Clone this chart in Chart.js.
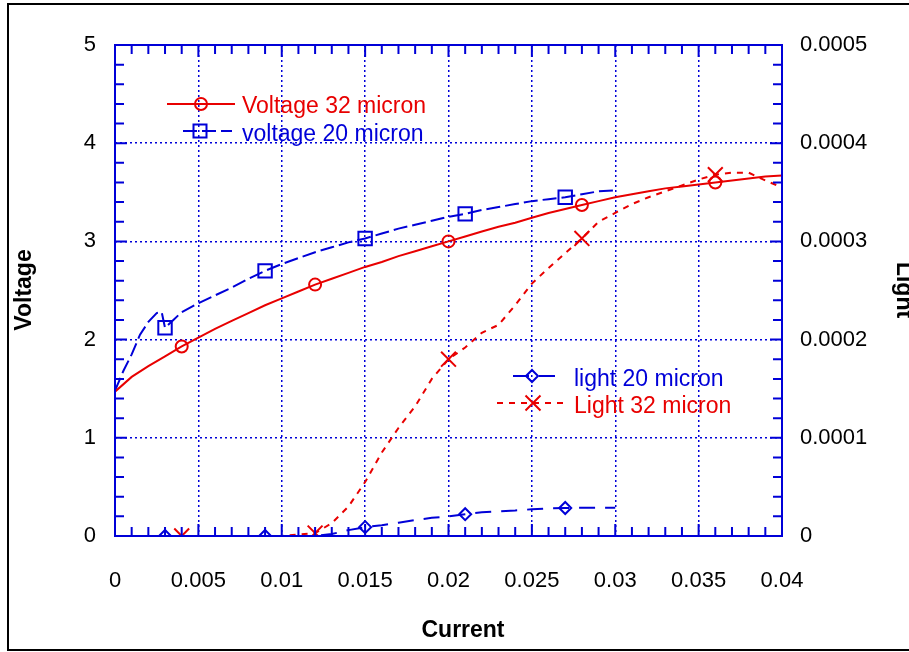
<!DOCTYPE html>
<html>
<head>
<meta charset="utf-8">
<script src="https://cdn.jsdelivr.net/npm/chart.js@4.4.1/dist/chart.umd.min.js"></script>
<style>
  html, body { margin: 0; padding: 0; background: #fff; }
  #wrap { width: 909px; height: 652px; position: relative; }
</style>
</head>
<body>
<div id="wrap"><canvas id="lightChart"></canvas></div>
<script>
// values
const current32 = [0, 0.001, 0.002, 0.003, 0.004, 0.005, 0.006, 0.007, 0.008, 0.009, 0.010,
  0.011, 0.012, 0.013, 0.014, 0.015, 0.016, 0.017, 0.018, 0.019, 0.020,
  0.021, 0.022, 0.023, 0.024, 0.025, 0.026, 0.027, 0.028, 0.029, 0.030,
  0.031, 0.032, 0.033, 0.034, 0.035, 0.036, 0.037, 0.038, 0.039, 0.040];
const voltage32 = [1.47, 1.62, 1.73, 1.83, 1.93, 2.02, 2.11, 2.19, 2.27, 2.35, 2.42,
  2.49, 2.56, 2.62, 2.68, 2.74, 2.79, 2.85, 2.90, 2.95, 3.00,
  3.05, 3.10, 3.15, 3.19, 3.24, 3.29, 3.33, 3.37, 3.41, 3.45,
  3.48, 3.51, 3.54, 3.56, 3.58, 3.60, 3.62, 3.64, 3.66, 3.67];

const current20 = [0, 0.0005, 0.001, 0.0015, 0.002, 0.0025, 0.0028, 0.003, 0.0035, 0.004,
  0.005, 0.006, 0.007, 0.008, 0.009, 0.010, 0.011, 0.012, 0.013, 0.014, 0.015,
  0.016, 0.017, 0.018, 0.019, 0.020, 0.021, 0.022, 0.023, 0.024, 0.025,
  0.026, 0.027, 0.028, 0.029, 0.030];
const voltage20 = [1.48, 1.68, 1.85, 2.05, 2.18, 2.27, 2.28, 2.12, 2.20, 2.28,
  2.37, 2.45, 2.53, 2.62, 2.70, 2.77, 2.83, 2.89, 2.94, 2.99, 3.03,
  3.08, 3.13, 3.17, 3.21, 3.25, 3.28, 3.32, 3.35, 3.38, 3.41,
  3.43, 3.45, 3.48, 3.51, 3.52];

const lightCurrent20 = [0.003, 0.004, 0.005, 0.006, 0.007, 0.008, 0.009, 0.010, 0.011, 0.012,
  0.013, 0.014, 0.015, 0.016, 0.017, 0.018, 0.019, 0.020, 0.021, 0.022,
  0.023, 0.024, 0.025, 0.026, 0.027, 0.028, 0.029, 0.030];
const light20 = [0, 0, 0, 0, 0, 0, 0, 0, 0, 0,
  0.000002, 0.000006, 0.000009, 0.000011, 0.0000135, 0.0000162, 0.0000185, 0.000020, 0.0000222, 0.0000243,
  0.0000252, 0.000026, 0.0000272, 0.000028, 0.0000285, 0.0000287, 0.0000288, 0.0000288];

const lightCurrent32 = [0.004, 0.006, 0.008, 0.010, 0.012, 0.013, 0.014, 0.015, 0.016, 0.017,
  0.018, 0.019, 0.020, 0.021, 0.022, 0.023, 0.024, 0.025, 0.026, 0.027,
  0.028, 0.029, 0.030, 0.031, 0.032, 0.033, 0.034, 0.035, 0.036, 0.037,
  0.038, 0.039, 0.040];
const light32 = [0, 0, 0, 0, 0.000003, 0.000013, 0.000030, 0.000055, 0.000085, 0.000110,
  0.000132, 0.000160, 0.000180, 0.000192, 0.000207, 0.000215, 0.000235, 0.000257, 0.000273, 0.000288,
  0.000303, 0.000320, 0.000329, 0.000338, 0.000345, 0.000351, 0.000357, 0.000363, 0.000368, 0.000370,
  0.000370, 0.000362, 0.000355];

// where the symbols sit
const marks32 = [0.004, 0.012, 0.020, 0.028, 0.036];
const marks20 = [0.003, 0.009, 0.015, 0.021, 0.027];

const xTickLabels = ['0', '0.005', '0.01', '0.015', '0.02', '0.025', '0.03', '0.035', '0.04'];
const voltTickLabels = ['0', '1', '2', '3', '4', '5'];
const lightTickLabels = ['0', '0.0001', '0.0002', '0.0003', '0.0004', '0.0005'];

const RED = '#e80000';
const BLUE = '#0000d8';
const FONT = '"Liberation Sans", Arial, sans-serif';

function pairs(xs, ys) {
  return xs.map((x, i) => ({ x: x, y: ys[i] }));
}
function markerRadius(xs, marks, r) {
  return ctx => {
    const x = xs[ctx.dataIndex];
    return marks.some(m => Math.abs(m - x) < 1e-9) ? r : 0;
  };
}

const legendItems = [
  { text: 'Voltage 32 micron', color: RED, dash: [], style: 'circle', x0: 167, x1: 235, mx: 201, y: 104, tx: 242, ty: 113 },
  { text: 'voltage 20 micron', color: BLUE, dash: [14, 5], style: 'rect', x0: 183, x1: 232, mx: 200, y: 131, tx: 242, ty: 141 },
  { text: 'light 20 micron', color: BLUE, dash: [16, 10], style: 'rectRot', x0: 513, x1: 563, mx: 532, y: 376, tx: 574, ty: 386 },
  { text: 'Light 32 micron', color: RED, dash: [6, 6], style: 'crossRot', x0: 497, x1: 569, mx: 533, y: 403, tx: 574, ty: 413 }
];

function drawMarker(ctx, style, x, y) {
  ctx.beginPath();
  if (style === 'circle') {
    ctx.arc(x, y, 6, 0, Math.PI * 2);
  } else if (style === 'rect') {
    ctx.rect(x - 6.5, y - 6.5, 13, 13);
  } else if (style === 'rectRot') {
    ctx.moveTo(x - 6, y); ctx.lineTo(x, y - 6); ctx.lineTo(x + 6, y); ctx.lineTo(x, y + 6); ctx.closePath();
  } else {
    ctx.moveTo(x - 7.5, y - 7.5); ctx.lineTo(x + 7.5, y + 7.5);
    ctx.moveTo(x + 7.5, y - 7.5); ctx.lineTo(x - 7.5, y + 7.5);
  }
  ctx.stroke();
}

const framePlugin = {
  id: 'frame',
  beforeDraw(chart) {
    const ctx = chart.ctx;
    ctx.save();
    ctx.fillStyle = '#fff';
    ctx.fillRect(0, 0, chart.width, chart.height);
    ctx.restore();
  },
  afterDraw(chart) {
    const ctx = chart.ctx;
    const a = chart.chartArea;
    const xs = chart.scales.x, ys = chart.scales.y, y2 = chart.scales.y2;
    ctx.save();

    // inward tick marks on all four sides
    ctx.strokeStyle = BLUE;
    ctx.lineWidth = 2;
    ctx.setLineDash([]);
    ctx.beginPath();
    for (let i = 0; i <= 40; i++) {
      const px = xs.getPixelForValue(i * 0.001);
      const len = i % 5 === 0 ? 12 : 9;
      ctx.moveTo(px, a.bottom); ctx.lineTo(px, a.bottom - len);
      ctx.moveTo(px, a.top); ctx.lineTo(px, a.top + len);
    }
    for (let i = 0; i <= 25; i++) {
      const len = i % 5 === 0 ? 12 : 9;
      const py = ys.getPixelForValue(i * 0.2);
      ctx.moveTo(a.left, py); ctx.lineTo(a.left + len, py);
      const pr = y2.getPixelForValue(i * 0.00002);
      ctx.moveTo(a.right, pr); ctx.lineTo(a.right - len, pr);
    }
    ctx.stroke();
    ctx.strokeRect(a.left, a.top, a.right - a.left, a.bottom - a.top);

    // legends inside the plot
    ctx.font = '23px ' + FONT;
    ctx.textBaseline = 'alphabetic';
    ctx.textAlign = 'left';
    legendItems.forEach(it => {
      ctx.strokeStyle = it.color;
      ctx.lineWidth = 2;
      ctx.setLineDash(it.dash);
      ctx.beginPath();
      ctx.moveTo(it.x0, it.y); ctx.lineTo(it.x1, it.y);
      ctx.stroke();
      ctx.setLineDash([]);
      ctx.fillStyle = '#fff';
      drawMarker(ctx, it.style, it.mx, it.y);
      ctx.fillStyle = it.color;
      ctx.fillText(it.text, it.tx, it.ty);
    });

    // axis titles
    ctx.fillStyle = '#000';
    ctx.font = 'bold 23px ' + FONT;
    ctx.textAlign = 'center';
    ctx.textBaseline = 'middle';
    ctx.fillText('Current', 463, 631);
    ctx.save();
    ctx.translate(25, 290);
    ctx.rotate(-Math.PI / 2);
    ctx.fillText('Voltage', 0, 0);
    ctx.restore();
    ctx.save();
    ctx.translate(903, 290);
    ctx.rotate(Math.PI / 2);
    ctx.fillText('Light', 0, 0);
    ctx.restore();

    // outer figure border
    ctx.strokeStyle = '#000';
    ctx.lineWidth = 2;
    ctx.strokeRect(8, 4, 920, 646);
    ctx.restore();
  }
};

const tickFont = { family: FONT, size: 22 };

new Chart(document.getElementById('lightChart'), {
  type: 'line',
  data: {
    datasets: [
      {
        label: 'Voltage 32 micron',
        data: pairs(current32, voltage32),
        yAxisID: 'y',
        borderColor: RED,
        borderWidth: 2,
        pointStyle: 'circle',
        pointRadius: markerRadius(current32, marks32, 6),
        pointBorderColor: RED,
        pointBackgroundColor: 'rgba(0,0,0,0)',
        pointBorderWidth: 2,
        tension: 0
      },
      {
        label: 'voltage 20 micron',
        data: pairs(current20, voltage20),
        yAxisID: 'y',
        borderColor: BLUE,
        borderWidth: 2,
        borderDash: [14, 5],
        pointStyle: 'rect',
        pointRadius: markerRadius(current20, marks20, 9.5),
        pointBorderColor: BLUE,
        pointBackgroundColor: 'rgba(0,0,0,0)',
        pointBorderWidth: 2,
        tension: 0
      },
      {
        label: 'light 20 micron',
        data: pairs(lightCurrent20, light20),
        yAxisID: 'y2',
        borderColor: BLUE,
        borderWidth: 2,
        borderDash: [16, 10],
        pointStyle: 'rectRot',
        pointRadius: markerRadius(lightCurrent20, marks20, 6),
        pointBorderColor: BLUE,
        pointBackgroundColor: 'rgba(0,0,0,0)',
        pointBorderWidth: 2,
        tension: 0
      },
      {
        label: 'Light 32 micron',
        data: pairs(lightCurrent32, light32),
        yAxisID: 'y2',
        borderColor: RED,
        borderWidth: 2,
        borderDash: [6, 6],
        pointStyle: 'crossRot',
        pointRadius: markerRadius(lightCurrent32, marks32, 10.5),
        pointBorderColor: RED,
        pointBorderWidth: 2,
        tension: 0
      }
    ]
  },
  options: {
    responsive: true,
    maintainAspectRatio: false,
    animation: false,
    events: [],
    layout: { padding: { top: 45, left: 0, right: 0, bottom: 0 } },
    plugins: { legend: { display: false }, tooltip: { enabled: false } },
    scales: {
      x: {
        type: 'linear',
        min: 0, max: 0.04,
        afterFit: s => { s.height = 116; },
        ticks: {
          stepSize: 0.005, padding: 32, color: '#000', font: tickFont,
          callback: v => xTickLabels[Math.round(v / 0.005)]
        },
        grid: { color: BLUE, lineWidth: 1.5, drawTicks: false },
        border: { display: false, dash: [2, 3] }
      },
      y: {
        position: 'left',
        min: 0, max: 5,
        afterFit: s => { s.width = 115; },
        ticks: {
          stepSize: 1, padding: 19, color: '#000', font: tickFont,
          callback: v => voltTickLabels[Math.round(v)]
        },
        grid: { color: BLUE, lineWidth: 1.5, drawTicks: false },
        border: { display: false, dash: [2, 3] }
      },
      y2: {
        position: 'right',
        min: 0, max: 0.0005,
        afterFit: s => { s.width = 127; },
        ticks: {
          stepSize: 0.0001, padding: 18, color: '#000', font: tickFont,
          callback: v => lightTickLabels[Math.round(v / 0.0001)]
        },
        grid: { display: false, drawTicks: false },
        border: { display: false }
      }
    }
  },
  plugins: [framePlugin]
});
</script>
</body>
</html>
